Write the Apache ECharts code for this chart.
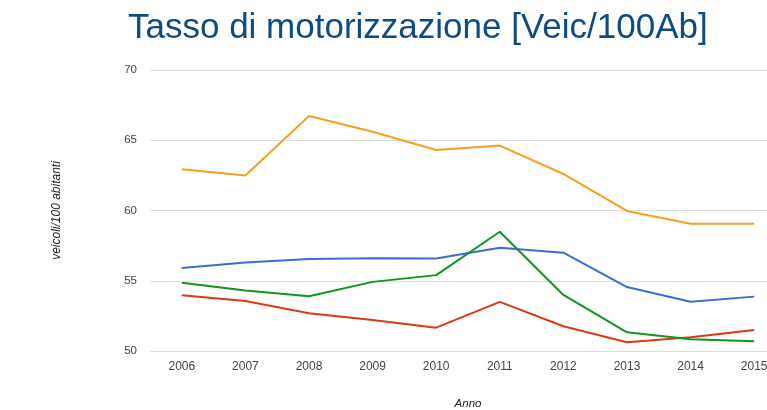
<!DOCTYPE html>
<html>
<head>
<meta charset="utf-8">
<script src="https://cdn.jsdelivr.net/npm/echarts@6/dist/echarts.min.js"></script>
<style>
  html, body { margin: 0; padding: 0; background: #fff; }
  #chart { width: 767px; height: 410px; }
</style>
</head>
<body>
<div id="chart"></div>
<script>
// Motorisation rate per year, vehicles per 100 inhabitants
const years = ['2006', '2007', '2008', '2009', '2010', '2011', '2012', '2013', '2014', '2015'];
const seriesBlue   = [55.9, 56.3, 56.55, 56.6, 56.58, 57.35, 57.0, 54.55, 53.5, 53.87];
const seriesRed    = [53.97, 53.56, 52.68, 52.2, 51.66, 53.5, 51.76, 50.62, 50.98, 51.5];
const seriesOrange = [62.94, 62.49, 66.72, 65.6, 64.3, 64.62, 62.6, 59.97, 59.05, 59.05];
const seriesGreen  = [54.85, 54.3, 53.9, 54.92, 55.4, 58.49, 53.99, 51.33, 50.83, 50.69];
const yTicks = { min: 50, max: 70, step: 5 };

const font = '"Liberation Sans", Arial, sans-serif';

const chart = echarts.init(document.getElementById('chart'), null, { renderer: 'canvas' });

function line(name, data, color) {
  return {
    name: name,
    type: 'line',
    data: data,
    symbol: 'none',
    smooth: false,
    lineStyle: { color: color, width: 2 },
    itemStyle: { color: color },
    z: 3
  };
}

chart.setOption({
  animation: false,
  backgroundColor: '#ffffff',
  title: {
    text: 'Tasso di motorizzazione [Veic/100Ab]',
    left: 123,
    top: 6,
    textStyle: { fontFamily: font, fontSize: 35, fontWeight: 'normal', color: '#0f4a80' }
  },
  // plot area runs past the right edge of the canvas
  grid: {
    left: 150, width: 636, top: 70, height: 281,
    containLabel: false,
    outerBoundsMode: 'none'
  },
  xAxis: {
    type: 'category',
    data: years,
    boundaryGap: true,
    name: 'Anno',
    nameLocation: 'middle',
    nameGap: 47,
    nameTextStyle: { fontFamily: font, fontSize: 11.5, fontStyle: 'italic', color: '#222' },
    axisLine: { show: false },
    axisTick: { show: false },
    axisLabel: { fontFamily: font, fontSize: 12, color: '#444', margin: 10 }
  },
  yAxis: {
    type: 'value',
    min: yTicks.min,
    max: yTicks.max,
    interval: yTicks.step,
    name: 'veicoli/100 abitanti',
    nameLocation: 'middle',
    nameGap: 87,
    nameRotate: 90,
    nameTextStyle: { fontFamily: font, fontSize: 12, fontStyle: 'italic', color: '#222' },
    axisLine: { show: false },
    axisTick: { show: false },
    axisLabel: { fontFamily: font, fontSize: 11.5, color: '#444', margin: 13 },
    splitLine: { lineStyle: { color: '#dedede', width: 1 } }
  },
  series: [
    line('Blu', seriesBlue, '#3d6bd1'),
    line('Rosso', seriesRed, '#dc3912'),
    line('Arancio', seriesOrange, '#fb9d1e'),
    line('Verde', seriesGreen, '#109618')
  ]
});
</script>
</body>
</html>
